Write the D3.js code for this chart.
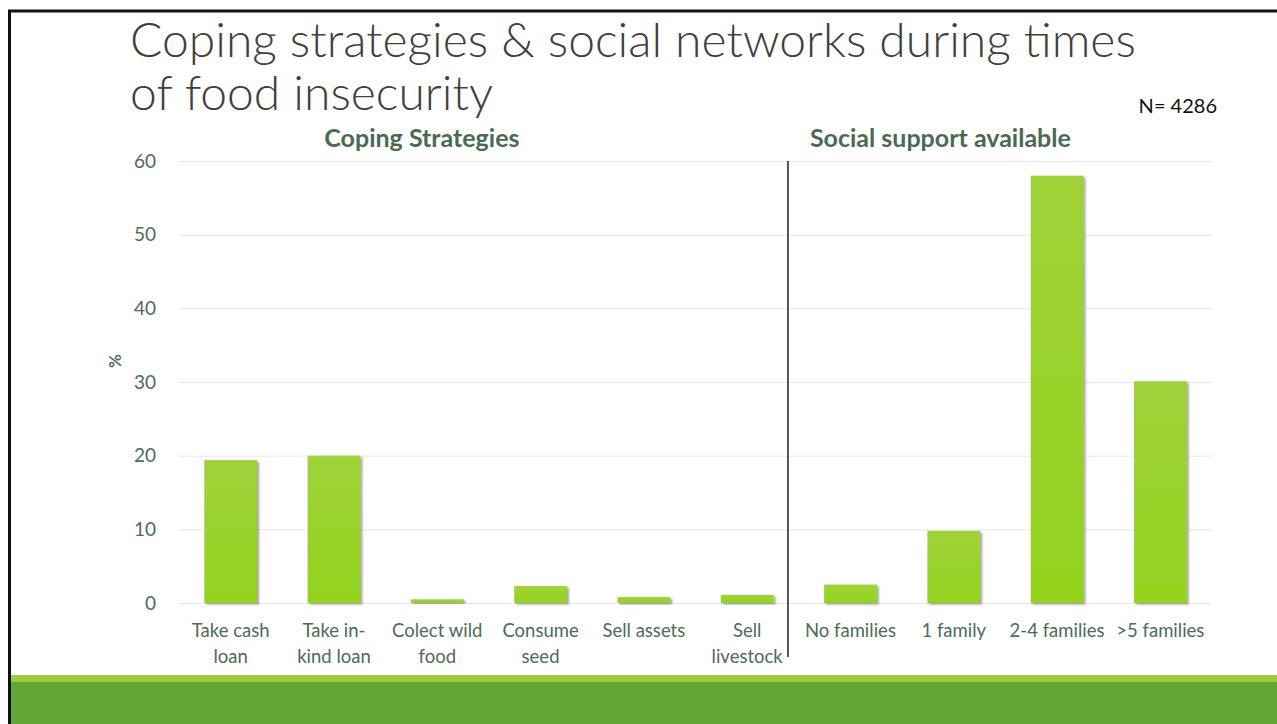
<!DOCTYPE html>
<html>
<head>
<meta charset="utf-8">
<script src="https://cdn.jsdelivr.net/npm/d3@7"></script>
<style>
  body { margin: 0; background: #fff; }
  svg { display: block; font-family: Lato, "Open Sans", sans-serif; }
</style>
</head>
<body>
<svg id="chart" width="1277" height="724"></svg>
<script>
// Data
const categories = [
  "Take cash|loan", "Take in-|kind loan", "Colect wild|food", "Consume|seed",
  "Sell assets", "Sell|livestock", "No families", "1 family", "2-4 families", ">5 families"
];
const values = [19.4, 20.0, 0.5, 2.3, 0.8, 1.1, 2.5, 9.8, 58.0, 30.1];
const yTicks = [0, 10, 20, 30, 40, 50, 60];
const groupTitles = ["Coping Strategies", "Social support available"];

const svg = d3.select("#chart");

// Slide frame
svg.append("rect").attr("x", 0).attr("y", 0).attr("width", 1277).attr("height", 724).attr("fill", "#fff");
svg.append("line").attr("x1", 8).attr("x2", 1277).attr("y1", 11).attr("y2", 11)
  .attr("stroke", "#111").attr("stroke-width", 3);
svg.append("line").attr("x1", 9.5).attr("x2", 9.5).attr("y1", 10).attr("y2", 724)
  .attr("stroke", "#111").attr("stroke-width", 3);

// Bottom band
svg.append("rect").attr("x", 11).attr("y", 675).attr("width", 1266).attr("height", 8).attr("fill", "#9CCB3B");
svg.append("rect").attr("x", 11).attr("y", 682).attr("width", 1266).attr("height", 42).attr("fill", "#63A537");

// Title
const title = svg.append("text")
  .attr("fill", "#404040")
  .style("font-family", "Lato, 'Open Sans', sans-serif")
  .style("font-weight", 300)
  .style("font-size", "48px");
title.append("tspan").attr("x", 130).attr("y", 57).text("Coping strategies & social networks during times");
title.append("tspan").attr("x", 130).attr("y", 110).text("of food insecurity");

svg.append("text").attr("x", 1217).attr("y", 113).attr("fill", "#111")
  .attr("text-anchor", "end")
  .style("font-size", "20px").text("N= 4286");

// Chart
const margin = { top: 161, left: 179, right: 65, bottom: 121 };
const width = 1277 - margin.left - margin.right;
const height = 724 - margin.top - margin.bottom;

const g = svg.append("g").attr("transform", `translate(${margin.left},${margin.top})`);

const x = d3.scaleBand().domain(categories).range([0, width]).paddingInner(0.49).paddingOuter(0.245);
const y = d3.scaleLinear().domain([0, 60]).range([height, 0]);

// gradient + shadow
const defs = svg.append("defs");
const grad = defs.append("linearGradient").attr("id", "barGrad").attr("x1", 0).attr("y1", 0).attr("x2", 0).attr("y2", 1);
grad.append("stop").attr("offset", "0%").attr("stop-color", "#A0D23A");
grad.append("stop").attr("offset", "100%").attr("stop-color", "#93D31D");
const shadow = defs.append("filter").attr("id", "shadow").attr("x", "-10%").attr("y", "-10%").attr("width", "130%").attr("height", "130%");
shadow.append("feDropShadow").attr("dx", 2).attr("dy", 1.5).attr("stdDeviation", 1)
  .attr("flood-color", "#555").attr("flood-opacity", 0.55);

// Grid lines + y axis
g.append("g")
  .call(d3.axisLeft(y).tickValues(yTicks).tickSize(-width).tickPadding(23))
  .call((a) => a.select(".domain").remove())
  .call((a) => a.selectAll(".tick line").attr("stroke", "#E2E8E4").attr("stroke-width", 1))
  .call((a) => a.selectAll(".tick text").attr("fill", "#4E6A58").style("font-size", "19px")
    .style("font-family", "Lato, 'Open Sans', sans-serif"));

// y label
svg.append("text")
  .attr("transform", "translate(121,361) rotate(-90)")
  .attr("text-anchor", "middle")
  .attr("fill", "#4E6A58")
  .style("font-size", "17px").style("font-weight", 700)
  .text("%");

// Bars
g.selectAll(".bar")
  .data(values)
  .join("rect")
  .attr("class", "bar")
  .attr("x", (d, i) => x(categories[i]))
  .attr("y", (d) => y(d))
  .attr("width", x.bandwidth())
  .attr("height", (d) => y(0) - y(d))
  .attr("fill", "url(#barGrad)")
  .attr("filter", "url(#shadow)");

// Divider between groups
const divX = x(categories[6]) - x.step() * 0.35;
g.append("line").attr("x1", divX).attr("x2", divX).attr("y1", 0).attr("y2", height + 54)
  .attr("stroke", "#222").attr("stroke-width", 1.5);

// x axis labels
const xLabels = g.append("g")
  .selectAll("text")
  .data(categories)
  .join("text")
  .attr("text-anchor", "middle")
  .attr("fill", "#4E6A58")
  .style("font-size", "18.5px");
xLabels.each(function (d) {
  const t = d3.select(this);
  d.split("|").forEach((line, k) => {
    t.append("tspan")
      .attr("x", x(d) + x.bandwidth() / 2)
      .attr("y", height + 34 + k * 26)
      .text(line);
  });
});

// Group titles
const leftCenter = (x(categories[0]) + x(categories[5]) + x.bandwidth()) / 2;
const rightCenter = (x(categories[6]) + x(categories[9]) + x.bandwidth()) / 2;
g.selectAll(".group-title")
  .data(groupTitles)
  .join("text")
  .attr("class", "group-title")
  .attr("x", (d, i) => (i === 0 ? leftCenter - 67 : rightCenter - 65))
  .attr("y", -14)
  .attr("text-anchor", "middle")
  .attr("fill", "#4A6A54")
  .style("font-size", "25px")
  .style("font-weight", 700)
  .text((d) => d);
</script>
</body>
</html>
